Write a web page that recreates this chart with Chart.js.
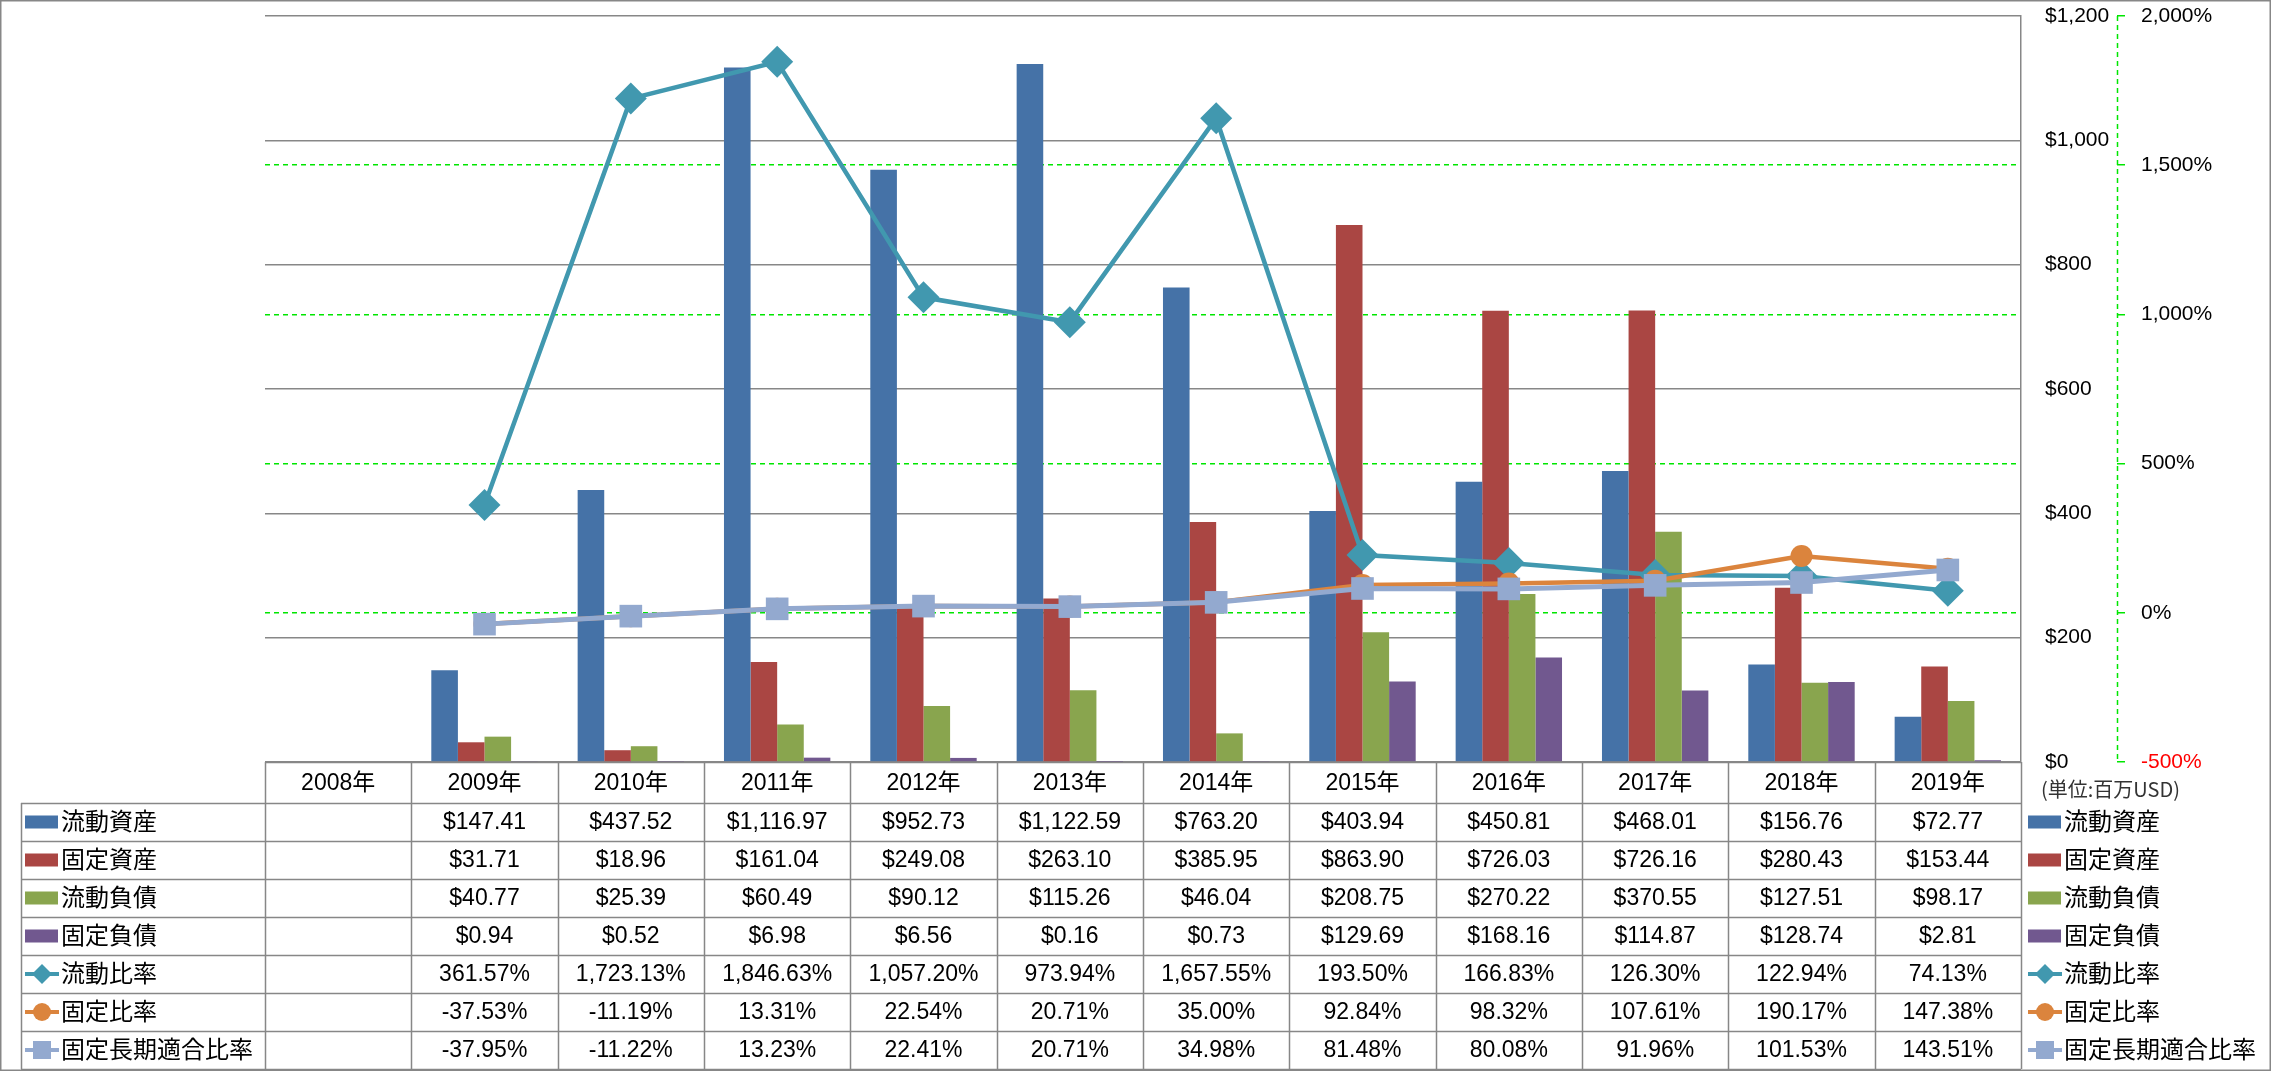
<!DOCTYPE html>
<html>
<head>
<meta charset="utf-8">
<script src="https://cdn.jsdelivr.net/npm/chart.js@4.4.1/dist/chart.umd.min.js"></script>
<style>
  html, body { margin: 0; padding: 0; background: #fff; }
  #wrap { width: 2271px; height: 1071px; }
</style>
</head>
<body>
<div id="wrap"><canvas id="finChart" width="2271" height="1071"></canvas></div>
<script>
// --- data (百万USD / %) ---
const years = ['2008年', '2009年', '2010年', '2011年', '2012年', '2013年', '2014年', '2015年', '2016年', '2017年', '2018年', '2019年'];

const currentAssets = [null, 147.41, 437.52, 1116.97, 952.73, 1122.59, 763.20, 403.94, 450.81, 468.01, 156.76, 72.77];
const fixedAssets = [null, 31.71, 18.96, 161.04, 249.08, 263.10, 385.95, 863.90, 726.03, 726.16, 280.43, 153.44];
const currentLiabilities = [null, 40.77, 25.39, 60.49, 90.12, 115.26, 46.04, 208.75, 270.22, 370.55, 127.51, 98.17];
const fixedLiabilities = [null, 0.94, 0.52, 6.98, 6.56, 0.16, 0.73, 129.69, 168.16, 114.87, 128.74, 2.81];

const currentRatio = [null, 361.57, 1723.13, 1846.63, 1057.20, 973.94, 1657.55, 193.50, 166.83, 126.30, 122.94, 74.13];
const fixedRatio = [null, -37.53, -11.19, 13.31, 22.54, 20.71, 35.00, 92.84, 98.32, 107.61, 190.17, 147.38];
const fixedLongTermRatio = [null, -37.95, -11.22, 13.23, 22.41, 20.71, 34.98, 81.48, 80.08, 91.96, 101.53, 143.51];

const usdTicks = [0, 200, 400, 600, 800, 1000, 1200];
const pctTicks = [-500, 0, 500, 1000, 1500, 2000];

// colors (Excel 2007 palette)
const BLUE = '#4572A7', RED = '#AA4643', GREEN = '#89A54E', PURPLE = '#71588F';
const TEAL = '#4198AF', ORANGE = '#DB843D', LIGHTBLUE = '#93A9CF';
const GRID_GRAY = '#878787';
const GRID_GREEN = '#00E600';

const FONT = '"Liberation Sans", "Noto Sans CJK JP", sans-serif';
Chart.defaults.font.family = FONT;
Chart.defaults.color = '#000';

const money = v => '$' + v.toLocaleString('en-US', { minimumFractionDigits: 2, maximumFractionDigits: 2 });
const pct = v => v.toLocaleString('en-US', { minimumFractionDigits: 2, maximumFractionDigits: 2 }) + '%';

const tableRows = [
    { label: '流動資産', data: currentAssets, color: BLUE, kind: 'bar', fmt: money },
    { label: '固定資産', data: fixedAssets, color: RED, kind: 'bar', fmt: money },
    { label: '流動負債', data: currentLiabilities, color: GREEN, kind: 'bar', fmt: money },
    { label: '固定負債', data: fixedLiabilities, color: PURPLE, kind: 'bar', fmt: money },
    { label: '流動比率', data: currentRatio, color: TEAL, kind: 'diamond', fmt: pct },
    { label: '固定比率', data: fixedRatio, color: ORANGE, kind: 'circle', fmt: pct },
    { label: '固定長期適合比率', data: fixedLongTermRatio, color: LIGHTBLUE, kind: 'square', fmt: pct }
];

// legend key in table / legend
function drawKey(ctx, row, x0, cy) {
    ctx.save();
    ctx.fillStyle = row.color;
    ctx.strokeStyle = row.color;
    if (row.kind === 'bar') {
        ctx.fillRect(x0, cy - 6.5, 33, 13);
    } else {
        ctx.lineWidth = 4;
        ctx.beginPath();
        ctx.moveTo(x0, cy);
        ctx.lineTo(x0 + 34, cy);
        ctx.stroke();
        const mx = x0 + 17;
        ctx.beginPath();
        if (row.kind === 'diamond') {
            ctx.moveTo(mx - 10, cy); ctx.lineTo(mx, cy - 10); ctx.lineTo(mx + 10, cy); ctx.lineTo(mx, cy + 10);
            ctx.closePath();
        } else if (row.kind === 'circle') {
            ctx.arc(mx, cy, 9, 0, Math.PI * 2);
        } else {
            ctx.rect(mx - 9, cy - 9, 18, 18);
        }
        ctx.fill();
    }
    ctx.restore();
}

const dataTablePlugin = {
    id: 'dataTable',
    afterDraw(chart) {
        const { ctx, chartArea, scales } = chart;
        const xs = scales.x;
        const y1 = scales.y1;
        const colW = (chartArea.right - chartArea.left) / years.length;
        const top = chartArea.bottom;
        const headerH = 41, rowH = 38;
        const labelLeft = 21;
        const right = chartArea.right;
        const rowsTop = top + headerH;
        const bottom = rowsTop + rowH * tableRows.length;

        ctx.save();
        // secondary axis dashed line
        ctx.strokeStyle = GRID_GREEN;
        ctx.lineWidth = 1.5;
        ctx.setLineDash([5, 4]);
        ctx.beginPath();
        ctx.moveTo(y1.left + 0.5, y1.top);
        ctx.lineTo(y1.left + 0.5, y1.bottom);
        ctx.stroke();
        ctx.setLineDash([]);

        // table grid
        ctx.strokeStyle = GRID_GRAY;
        ctx.lineWidth = 1.5;
        ctx.beginPath();
        ctx.moveTo(chartArea.left, top + 0.5);
        ctx.lineTo(right, top + 0.5);
        for (let r = 0; r <= tableRows.length; r++) {
            const yy = Math.round(rowsTop + r * rowH) + 0.5;
            ctx.moveTo(labelLeft, yy);
            ctx.lineTo(right, yy);
        }
        for (let c = 0; c <= years.length; c++) {
            const xx = Math.round(chartArea.left + c * colW) + 0.5;
            ctx.moveTo(xx, top);
            ctx.lineTo(xx, bottom);
        }
        ctx.moveTo(labelLeft + 0.5, rowsTop);
        ctx.lineTo(labelLeft + 0.5, bottom);
        ctx.stroke();

        // header
        ctx.fillStyle = '#000';
        ctx.textBaseline = 'middle';
        ctx.textAlign = 'center';
        ctx.font = '23px ' + FONT;
        years.forEach((yr, i) => {
            ctx.fillText(yr, xs.getPixelForValue(i), top + headerH / 2 + 1);
        });

        // rows
        tableRows.forEach((row, r) => {
            const cy = rowsTop + r * rowH + rowH / 2;
            drawKey(ctx, row, labelLeft + 4, cy);
            drawKey(ctx, row, right + 7, cy);
            ctx.fillStyle = '#000';
            ctx.textAlign = 'left';
            ctx.font = '24px ' + FONT;
            ctx.fillText(row.label, labelLeft + 40, cy + 1);
            ctx.fillText(row.label, right + 43, cy + 1);
            ctx.textAlign = 'center';
            ctx.font = '23px ' + FONT;
            row.data.forEach((v, i) => {
                if (v === null) return;
                ctx.fillText(row.fmt(v), xs.getPixelForValue(i), cy + 1);
            });
        });

        // unit note
        ctx.fillStyle = '#333';
        ctx.textAlign = 'left';
        ctx.font = '20px "Noto Sans CJK JP", sans-serif';
        ctx.fillText('(単位:百万USD)', right + 20, top + 27);

        // outer frame
        ctx.strokeStyle = GRID_GRAY;
        ctx.lineWidth = 1.5;
        ctx.strokeRect(0.75, 0.75, chart.width - 1.5, chart.height - 1.5);
        ctx.restore();
    }
};

const barBase = { type: 'bar', yAxisID: 'y', categoryPercentage: 0.727, barPercentage: 1.0, borderWidth: 0, order: 10 };
const lineBase = { type: 'line', yAxisID: 'y1', tension: 0, pointBorderWidth: 0, pointHoverRadius: 0 };

new Chart(document.getElementById('finChart'), {
    data: {
        labels: years,
        datasets: [
            { ...barBase, label: '流動資産', data: currentAssets, backgroundColor: BLUE },
            { ...barBase, label: '固定資産', data: fixedAssets, backgroundColor: RED },
            { ...barBase, label: '流動負債', data: currentLiabilities, backgroundColor: GREEN },
            { ...barBase, label: '固定負債', data: fixedLiabilities, backgroundColor: PURPLE },
            { ...lineBase, label: '流動比率', data: currentRatio, borderColor: TEAL, backgroundColor: TEAL,
              borderWidth: 4.5, pointStyle: 'rectRot', pointRadius: 16, order: 3 },
            { ...lineBase, label: '固定比率', data: fixedRatio, borderColor: ORANGE, backgroundColor: ORANGE,
              borderWidth: 4.5, pointStyle: 'circle', pointRadius: 11, order: 2 },
            { ...lineBase, label: '固定長期適合比率', data: fixedLongTermRatio, borderColor: LIGHTBLUE, backgroundColor: LIGHTBLUE,
              borderWidth: 5, pointStyle: 'rect', pointRadius: 16, order: 1 }
        ]
    },
    options: {
        responsive: false,
        animation: false,
        devicePixelRatio: 1,
        layout: { padding: { left: 265, top: 15, right: 0, bottom: 309 } },
        plugins: {
            legend: { display: false },
            tooltip: { enabled: false }
        },
        scales: {
            x: { type: 'category', display: false, offset: true },
            y: {
                position: 'right',
                min: 0, max: 1200,
                afterBuildTicks: s => { s.ticks = usdTicks.map(v => ({ value: v })); },
                afterFit: s => { s.width = 96; s.paddingTop = 0; s.paddingBottom = 0; },
                grid: { color: GRID_GRAY, lineWidth: 1.5, drawTicks: false },
                border: { color: GRID_GRAY, width: 1.5 },
                ticks: {
                    padding: 24,
                    font: { size: 21 },
                    color: '#000',
                    callback: v => '$' + v.toLocaleString('en-US')
                }
            },
            y1: {
                position: 'right',
                min: -500, max: 2000,
                afterBuildTicks: s => { s.ticks = pctTicks.map(v => ({ value: v })); },
                afterFit: s => { s.width = 154; s.paddingTop = 0; s.paddingBottom = 0; },
                grid: {
                    color: c => (c.tick && (c.tick.value === 2000 || c.tick.value === -500)) ? 'rgba(0,0,0,0)' : GRID_GREEN,
                    tickColor: GRID_GREEN,
                    lineWidth: 1.5,
                    tickLength: 8,
                    drawTicks: true
                },
                border: { display: false, dash: [5, 4] },
                ticks: {
                    padding: 16,
                    font: { size: 21 },
                    color: c => c.tick.value === -500 ? '#FF0000' : '#000',
                    callback: v => v.toLocaleString('en-US') + '%'
                }
            }
        }
    },
    plugins: [dataTablePlugin]
});
</script>
</body>
</html>
